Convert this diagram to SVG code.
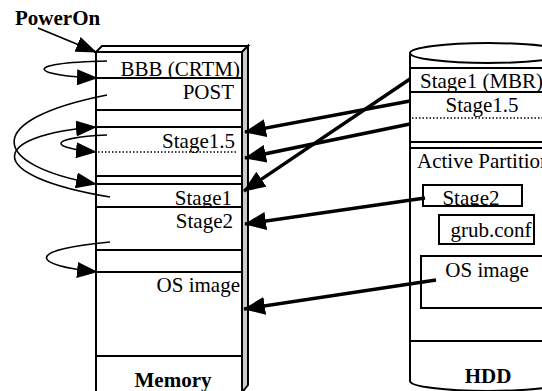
<svg xmlns="http://www.w3.org/2000/svg" width="542" height="391" viewBox="0 0 542 391">
<style>
text{font-family:"Liberation Serif","Times New Roman",serif;font-size:21px;fill:#000}
.b{font-weight:bold}
.row{fill:#fff;stroke:#000;stroke-width:2}
.ln{stroke:#000;stroke-width:2;fill:none}
.dot{stroke:#000;stroke-width:1.5;stroke-dasharray:1.5,2;fill:none}
.thick{stroke:#000;stroke-width:3.5;fill:none;marker-end:url(#big)}
.thin{stroke:#000;stroke-width:1.6;fill:none;marker-end:url(#small)}
</style>
<defs>
<marker id="big" viewBox="0 0 22 18" refX="21" refY="9" markerWidth="22" markerHeight="18" markerUnits="userSpaceOnUse" orient="auto"><path d="M0,0 L22,9 L0,18 Z" fill="#000"/></marker>
<marker id="small" viewBox="0 0 21 16" refX="20" refY="8" markerWidth="21" markerHeight="16" markerUnits="userSpaceOnUse" orient="auto"><path d="M0,0 L21,8 L0,16 Z" fill="#000"/></marker>
</defs>
<rect width="542" height="391" fill="#fff"/>

<g id="memory">
<polygon points="96,52 102,46 248,46 242,52" fill="#fff" stroke="#000" stroke-width="2"/>
<polygon points="242,52 248,46 248,385 244,390 242,391" fill="#ccc" stroke="#000" stroke-width="2"/>
<rect x="96" y="52" width="146" height="345" class="row"/>
<g id="mem-bbb"><rect x="96" y="52" width="146" height="26" class="row"/><text x="240" y="76" text-anchor="end">BBB (CRTM)</text></g>
<g id="mem-post"><rect x="96" y="78" width="146" height="32" class="row"/><text x="234" y="99" text-anchor="end">POST</text></g>
<g id="mem-stage15"><rect x="96" y="127" width="146" height="49" class="row"/><text x="235" y="148" text-anchor="end">Stage1.5</text><line x1="98" y1="152" x2="236" y2="152" class="dot"/></g>
<g id="mem-stage1"><rect x="96" y="184" width="146" height="23" class="row"/><text x="232" y="205" text-anchor="end">Stage1</text></g>
<g id="mem-stage2"><rect x="96" y="207" width="146" height="43" class="row"/><text x="233" y="228" text-anchor="end">Stage2</text></g>
<g id="mem-os"><rect x="96" y="272" width="146" height="84" class="row"/><text x="240" y="292" text-anchor="end">OS image</text></g>
<text x="173" y="387" text-anchor="middle" class="b">Memory</text>
</g>

<g id="hdd">
<path d="M410,53 L410,381 A78,10 0 0 0 566,381 L566,53" fill="#fff" stroke="#000" stroke-width="2"/>
<ellipse cx="488" cy="53" rx="78" ry="10" fill="#fff" stroke="#000" stroke-width="2"/>
<line x1="410" y1="68" x2="542" y2="68" class="ln"/>
<line x1="410" y1="92" x2="542" y2="92" class="ln"/>
<line x1="410" y1="142" x2="542" y2="142" class="ln"/>
<line x1="410" y1="148" x2="542" y2="148" class="ln"/>
<line x1="410" y1="341" x2="542" y2="341" class="ln"/>
<line x1="412" y1="118" x2="542" y2="118" class="dot"/>
<g id="hdd-stage1"><text x="420" y="88">Stage1 (MBR)</text></g>
<g id="hdd-stage15"><text x="482" y="112" text-anchor="middle">Stage1.5</text></g>
<g id="hdd-active"><text x="417" y="168">Active Partition</text></g>
<g id="hdd-stage2"><text x="471" y="205" text-anchor="middle">Stage2</text><rect x="423" y="185" width="99" height="22" fill="none" stroke="#000" stroke-width="2"/><rect x="422" y="207" width="101" height="6" fill="#fff"/><line x1="423" y1="206" x2="522" y2="206" class="ln"/></g>
<g id="hdd-grub"><rect x="439" y="215" width="95" height="29" fill="#fff" stroke="#000" stroke-width="2"/><text x="491" y="237" text-anchor="middle">grub.conf</text></g>
<g id="hdd-os"><rect x="421" y="256" width="140" height="52" fill="#fff" stroke="#000" stroke-width="2"/><text x="487" y="277" text-anchor="middle">OS image</text></g>
<text x="488" y="383" text-anchor="middle" class="b">HDD</text>
</g>

<g id="poweron"><text x="15" y="25" class="b">PowerOn</text></g>

<g id="connectors">
<path d="M38,28 L96,52" class="thin"/>
<path d="M107,61 C15,63 35,76 97,78" class="thin"/>
<path d="M107,95 C-20,120 -10,165 96,184" class="thin"/>
<path d="M110,197 C-20,175 -10,135 96,127" class="thin"/>
<path d="M107,135 C45,138 50,148 96,152" class="thin"/>
<path d="M110,242 C25,250 30,265 97,272" class="thin"/>
<path d="M410,79 L244,191" class="thick"/>
<path d="M410,101 L245,132" class="thick"/>
<path d="M410,124 L245,158" class="thick"/>
<path d="M425,198 L245,224" class="thick"/>
<path d="M436,280 L244,309" class="thick"/>
</g>
</svg>
